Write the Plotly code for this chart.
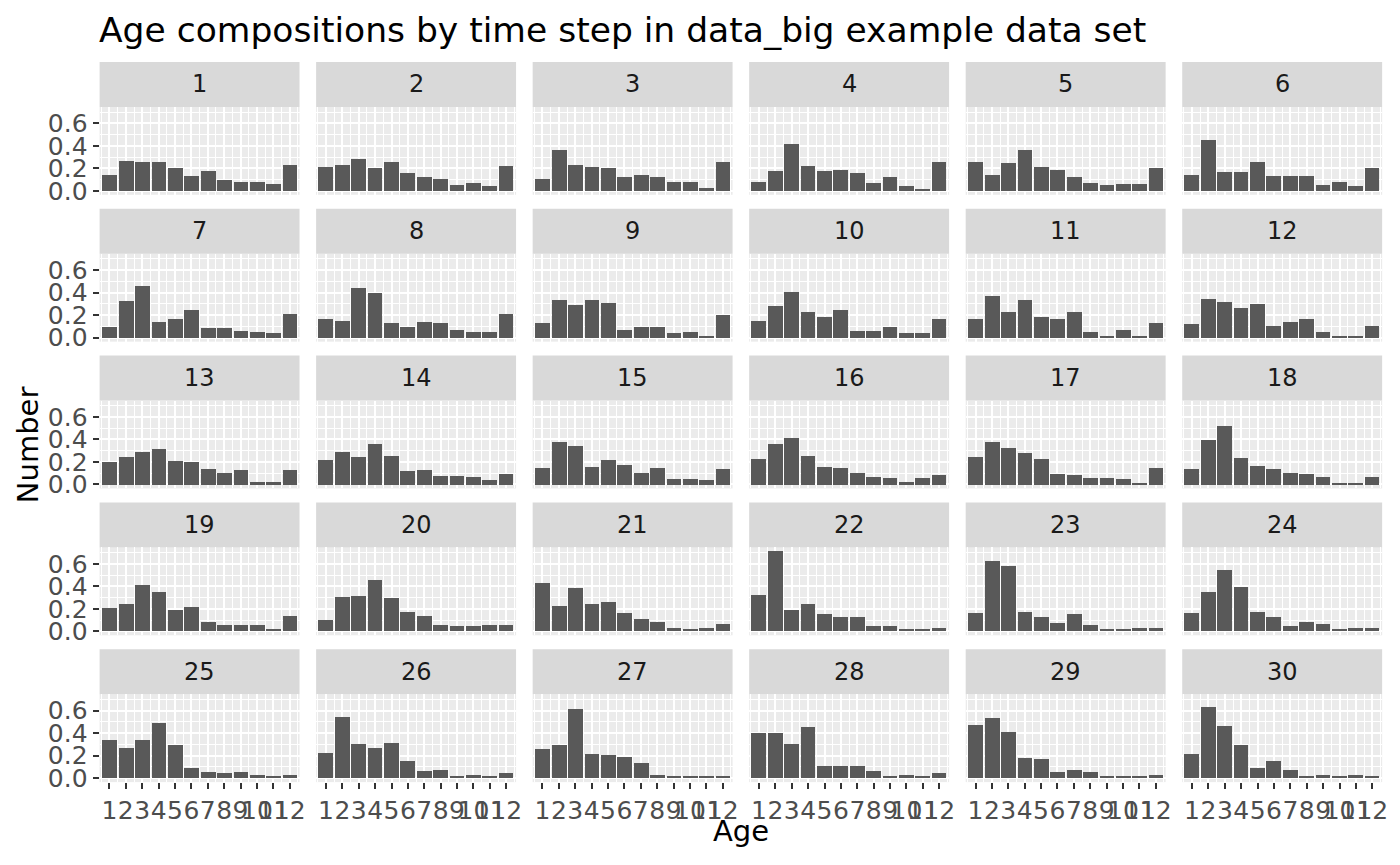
import plotly.graph_objects as go

ages = [1, 2, 3, 4, 5, 6, 7, 8, 9, 10, 11, 12]
age_labels = ["1", "2", "3", "4", "5", "6", "7", "8", "9", "10", "11", "12"]
y_ticks = [0.0, 0.2, 0.4, 0.6]
y_tick_labels = ["0.0", "0.2", "0.4", "0.6"]

step_1 = [0.14, 0.27, 0.26, 0.26, 0.20, 0.13, 0.18, 0.10, 0.08, 0.08, 0.06, 0.23]
step_2 = [0.21, 0.23, 0.28, 0.20, 0.26, 0.16, 0.12, 0.11, 0.05, 0.07, 0.04, 0.22]
step_3 = [0.11, 0.36, 0.23, 0.21, 0.20, 0.12, 0.14, 0.12, 0.08, 0.08, 0.03, 0.26]
step_4 = [0.08, 0.18, 0.42, 0.22, 0.18, 0.19, 0.16, 0.07, 0.12, 0.04, 0.02, 0.26]
step_5 = [0.26, 0.14, 0.25, 0.36, 0.21, 0.19, 0.12, 0.07, 0.05, 0.06, 0.06, 0.20]
step_6 = [0.14, 0.45, 0.17, 0.17, 0.26, 0.13, 0.13, 0.13, 0.05, 0.08, 0.04, 0.20]
step_7 = [0.10, 0.33, 0.46, 0.14, 0.17, 0.25, 0.09, 0.09, 0.06, 0.05, 0.04, 0.21]
step_8 = [0.17, 0.15, 0.44, 0.40, 0.13, 0.10, 0.14, 0.13, 0.07, 0.05, 0.05, 0.21]
step_9 = [0.13, 0.34, 0.29, 0.34, 0.31, 0.07, 0.10, 0.10, 0.04, 0.05, 0.02, 0.20]
step_10 = [0.15, 0.28, 0.41, 0.23, 0.19, 0.25, 0.06, 0.06, 0.10, 0.04, 0.04, 0.17]
step_11 = [0.17, 0.37, 0.23, 0.34, 0.19, 0.17, 0.23, 0.05, 0.02, 0.07, 0.02, 0.13]
step_12 = [0.12, 0.35, 0.32, 0.27, 0.30, 0.11, 0.14, 0.17, 0.05, 0.01, 0.02, 0.11]
step_13 = [0.20, 0.25, 0.29, 0.32, 0.21, 0.20, 0.14, 0.11, 0.13, 0.03, 0.03, 0.13]
step_14 = [0.22, 0.29, 0.25, 0.36, 0.26, 0.12, 0.13, 0.08, 0.08, 0.07, 0.04, 0.10]
step_15 = [0.15, 0.38, 0.35, 0.16, 0.22, 0.18, 0.11, 0.15, 0.05, 0.05, 0.04, 0.14]
step_16 = [0.23, 0.36, 0.42, 0.26, 0.16, 0.15, 0.11, 0.07, 0.06, 0.03, 0.06, 0.09]
step_17 = [0.25, 0.38, 0.33, 0.28, 0.23, 0.10, 0.09, 0.06, 0.06, 0.05, 0.01, 0.15]
step_18 = [0.14, 0.40, 0.52, 0.24, 0.17, 0.14, 0.11, 0.10, 0.07, 0.01, 0.02, 0.07]
step_19 = [0.20, 0.24, 0.41, 0.35, 0.19, 0.21, 0.08, 0.05, 0.05, 0.05, 0.02, 0.13]
step_20 = [0.10, 0.30, 0.31, 0.45, 0.29, 0.17, 0.13, 0.05, 0.04, 0.04, 0.05, 0.05]
step_21 = [0.43, 0.22, 0.38, 0.24, 0.26, 0.16, 0.11, 0.08, 0.03, 0.01, 0.03, 0.06]
step_22 = [0.32, 0.71, 0.19, 0.24, 0.15, 0.12, 0.12, 0.04, 0.04, 0.02, 0.01, 0.03]
step_23 = [0.16, 0.62, 0.58, 0.17, 0.12, 0.07, 0.15, 0.05, 0.01, 0.01, 0.03, 0.03]
step_24 = [0.16, 0.35, 0.54, 0.39, 0.17, 0.12, 0.04, 0.08, 0.06, 0.02, 0.03, 0.03]
step_25 = [0.34, 0.27, 0.34, 0.49, 0.29, 0.09, 0.05, 0.04, 0.05, 0.03, 0.01, 0.03]
step_26 = [0.22, 0.54, 0.30, 0.27, 0.31, 0.15, 0.06, 0.07, 0.02, 0.03, 0.02, 0.04]
step_27 = [0.26, 0.29, 0.61, 0.21, 0.20, 0.19, 0.13, 0.03, 0.01, 0.01, 0.01, 0.01]
step_28 = [0.40, 0.40, 0.30, 0.45, 0.11, 0.11, 0.11, 0.06, 0.01, 0.03, 0.01, 0.04]
step_29 = [0.47, 0.53, 0.41, 0.18, 0.17, 0.05, 0.07, 0.05, 0.02, 0.02, 0.01, 0.03]
step_30 = [0.21, 0.63, 0.46, 0.29, 0.09, 0.15, 0.07, 0.02, 0.03, 0.02, 0.03, 0.01]

steps = [step_1, step_2, step_3, step_4, step_5, step_6, step_7, step_8, step_9, step_10,
         step_11, step_12, step_13, step_14, step_15, step_16, step_17, step_18, step_19, step_20,
         step_21, step_22, step_23, step_24, step_25, step_26, step_27, step_28, step_29, step_30]
step_names = [str(i + 1) for i in range(len(steps))]

OFF = 8.0  # page body margin
W, H = 1400 - 2 * OFF, 865 - 2 * OFF
KY = 1.012  # vertical correction observed in rendering
KX = 1.004
NCOL, NROW = 6, 5
left0, pw, pitch_x = 100.0, 200.0, 216.6
top0, pitch_y = 62.0, 147.0
strip_h, panel_bottom = 45.0, 133.0


def px(x):
    return ((x - 100.0) * KX + 100.0 - OFF) / W


def py(y):
    return 1 - ((y - OFF) * KY) / H


ymax = max(max(s) for s in steps)
yrange = [-0.05 * ymax, ymax * 1.05]
xrange_ = [0.4, 12.6]

FONT = "DejaVu Sans"
fig = go.Figure()
layout = {}
shapes = []
annotations = []

for i, vals in enumerate(steps):
    r, c = divmod(i, NCOL)
    n = i + 1
    xs = "" if n == 1 else str(n)
    x0 = left0 + c * pitch_x
    x1 = x0 + pw
    st = top0 + r * pitch_y
    p0 = st + strip_h
    p1 = st + panel_bottom
    fig.add_trace(go.Bar(x=ages, y=vals, width=0.9, marker=dict(color="#595959", line=dict(width=0)),
                         xaxis="x" + xs, yaxis="y" + xs, showlegend=False))
    bottom = (r == NROW - 1)
    first = (c == 0)
    layout["xaxis" + xs] = dict(
        domain=[px(x0), px(x1)], anchor="y" + xs, range=xrange_,
        tickmode="array", tickvals=ages, ticktext=age_labels, tickangle=0,
        showticklabels=bottom, ticks="outside" if bottom else "", ticklen=6, tickwidth=2,
        tickcolor="#333333", tickfont=dict(family=FONT, size=25, color="#4D4D4D"),
        showgrid=True, gridcolor="white", gridwidth=2.2, zeroline=False, showline=False,
        minor=dict(tickvals=[a - 0.5 for a in ages] + [12.5], showgrid=True, gridcolor="white",
                   gridwidth=1.1, ticks=""),
        fixedrange=True,
    )
    layout["yaxis" + xs] = dict(
        domain=[py(p1), py(p0)], anchor="x" + xs, range=yrange,
        tickmode="array", tickvals=y_ticks, ticktext=y_tick_labels,
        showticklabels=first, ticks="outside" if first else "", ticklen=6, tickwidth=2,
        tickcolor="#333333", tickfont=dict(family=FONT, size=25, color="#4D4D4D"),
        ticklabelstandoff=0,
        showgrid=True, gridcolor="white", gridwidth=2.2, zeroline=False, showline=False,
        minor=dict(tickvals=[0.1, 0.3, 0.5, 0.7], showgrid=True, gridcolor="white",
                   gridwidth=1.1, ticks=""),
        fixedrange=True,
    )
    shapes.append(dict(type="rect", xref="paper", yref="paper",
                       x0=px(x0), x1=px(x1), y0=py(p0), y1=py(st),
                       fillcolor="#D9D9D9", line=dict(width=0), layer="below"))
    annotations.append(dict(text=step_names[i], xref="paper", yref="paper",
                            x=px((x0 + x1) / 2), y=py(st + strip_h / 2),
                            xanchor="center", yanchor="middle", showarrow=False,
                            font=dict(family=FONT, size=24, color="#1A1A1A")))

annotations.append(dict(text="Age compositions by time step in data_big example data set",
                        xref="paper", yref="paper", x=px(97), y=py(30),
                        xanchor="left", yanchor="middle", showarrow=False,
                        font=dict(family=FONT, size=34.5, color="black")))
annotations.append(dict(text="Age", xref="paper", yref="paper",
                        x=px((left0 + (left0 + 5 * pitch_x + pw)) / 2), y=py(832),
                        xanchor="center", yanchor="middle", showarrow=False,
                        font=dict(family=FONT, size=29, color="black")))
annotations.append(dict(text="Number", xref="paper", yref="paper",
                        x=px(28), y=py(445), textangle=-90,
                        xanchor="center", yanchor="middle", showarrow=False,
                        font=dict(family=FONT, size=29, color="black")))

fig.update_layout(
    width=W, height=H, margin=dict(l=0, r=0, t=0, b=0),
    paper_bgcolor="white", plot_bgcolor="#EBEBEB",
    shapes=shapes, annotations=annotations, showlegend=False, bargap=0,
    **layout,
)
fig.write_html("out.html")
